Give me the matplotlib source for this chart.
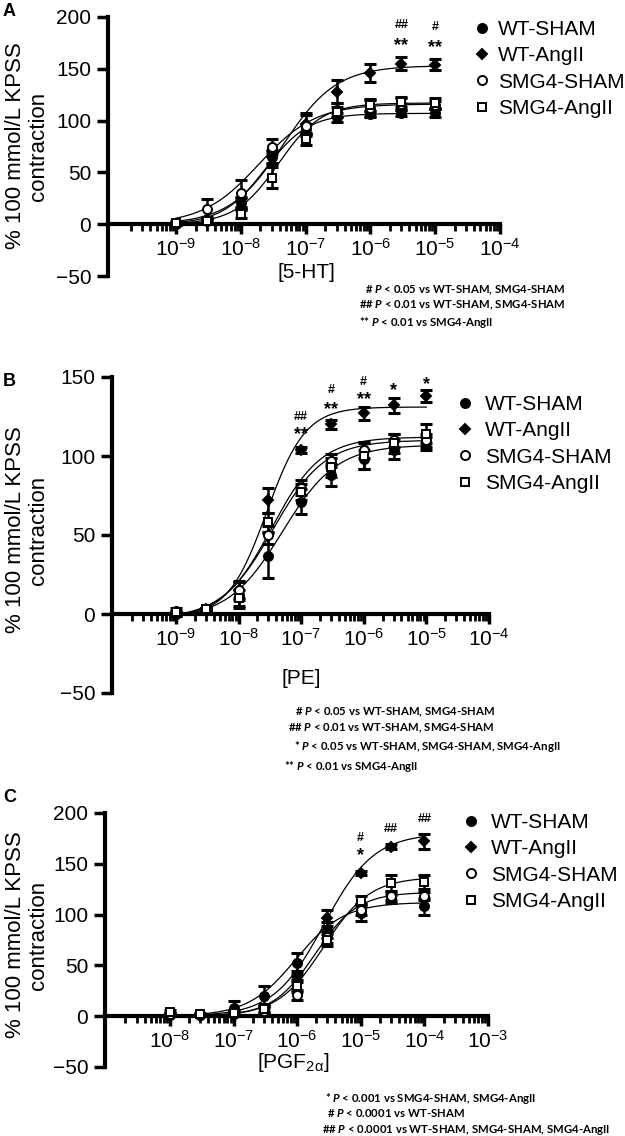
import numpy as np
import matplotlib
matplotlib.use("Agg")
import matplotlib.pyplot as plt
from matplotlib.ticker import FixedLocator, LogLocator, LogFormatterSciNotation
from matplotlib.transforms import offset_copy

plt.rcParams["font.family"] = ["Liberation Sans", "DejaVu Sans"]
plt.rcParams["mathtext.fontset"] = "custom"
plt.rcParams["mathtext.rm"] = "Liberation Sans"
plt.rcParams["mathtext.it"] = "Lato:italic:bold"
plt.rcParams["mathtext.bf"] = "Liberation Sans:bold"

groups = ["WT-SHAM", "WT-AngII", "SMG4-SHAM", "SMG4-AngII"]

# panel A: 5-HT
conc_a = [1e-9, 3e-9, 1e-8, 3e-8, 1e-7, 3e-7, 1e-6, 3e-6, 1e-5]
a_mean = {
    "WT-SHAM":    [0, 3, 20, 65, 92, 103, 106, 107, 107],
    "WT-AngII":   [0, 5, 21, 65, 97, 128, 146, 155, 154],
    "SMG4-SHAM":  [1, 15, 30, 75, 95, 110, 112, 116, 115],
    "SMG4-AngII": [1, 3, 10, 45, 82, 108, 115, 118, 117],
}
a_err = {
    "WT-SHAM":    [1, 2, 5, 6, 5, 4, 3, 3, 4],
    "WT-AngII":   [1, 2, 5, 7, 10, 11, 9, 6, 5],
    "SMG4-SHAM":  [2, 9, 13, 7, 10, 7, 8, 6, 4],
    "SMG4-AngII": [1, 2, 4, 10, 6, 5, 6, 5, 5],
}
# fitted curves: bottom, top, logEC50, hill
a_fit = {
    "WT-SHAM":    (0, 107, -7.62, 1.3),
    "WT-AngII":   (0, 153, -7.35, 1.05),
    "SMG4-SHAM":  (0, 116, -7.72, 1.0),
    "SMG4-AngII": (0, 117, -7.42, 1.3),
}

# panel B: PE
conc_b = [1e-9, 3e-9, 1e-8, 3e-8, 1e-7, 3e-7, 1e-6, 3e-6, 1e-5]
b_mean = {
    "WT-SHAM":    [0, 3, 12, 37, 71, 88, 98, 104, 108],
    "WT-AngII":   [0, 3, 15, 72, 104, 120, 127, 132, 138],
    "SMG4-SHAM":  [2, 3, 15, 50, 80, 97, 104, 110, 110],
    "SMG4-AngII": [1, 3, 10, 58, 77, 93, 100, 108, 114],
}
b_err = {
    "WT-SHAM":    [1, 1, 8, 14, 8, 7, 6, 6, 4],
    "WT-AngII":   [1, 1, 5, 8, 2, 3, 4, 5, 4],
    "SMG4-SHAM":  [2, 1, 6, 6, 5, 4, 5, 4, 4],
    "SMG4-AngII": [1, 1, 5, 6, 5, 6, 8, 6, 6],
}
b_fit = {
    "WT-SHAM":    (-3, 107, -7.3, 1.0),
    "WT-AngII":   (-2, 131, -7.55, 1.4),
    "SMG4-SHAM":  (-3, 110, -7.45, 1.05),
    "SMG4-AngII": (-3, 112, -7.47, 1.1),
}

# panel C: PGF2a
conc_c = [1e-8, 3e-8, 1e-7, 3e-7, 1e-6, 3e-6, 1e-5, 3e-5, 1e-4]
c_mean = {
    "WT-SHAM":    [1, 1, 8, 20, 52, 85, 102, 115, 108],
    "WT-AngII":   [2, 1, 3, 8, 39, 97, 141, 167, 172],
    "SMG4-SHAM":  [2, 1, 2, 5, 21, 78, 105, 118, 118],
    "SMG4-AngII": [4, 2, 3, 7, 30, 75, 113, 131, 132],
}
c_err = {
    "WT-SHAM":    [1, 1, 7, 10, 10, 8, 8, 4, 8],
    "WT-AngII":   [1, 1, 3, 4, 5, 8, 2, 2, 7],
    "SMG4-SHAM":  [1, 1, 2, 3, 5, 6, 5, 4, 4],
    "SMG4-AngII": [2, 1, 2, 3, 6, 6, 5, 8, 7],
}
c_fit = {
    "WT-SHAM":    (0, 112, -6.02, 1.15),
    "WT-AngII":   (0, 180, -5.58, 1.1),
    "SMG4-SHAM":  (0, 122, -5.72, 1.3),
    "SMG4-AngII": (0, 137, -5.58, 1.2),
}

# significance marks: (conc, y value, text)
a_sig = [(3e-6, 192, "##"), (3e-6, 176, "**"), (1e-5, 190, "#"), (1e-5, 174, "**")]
b_sig = [(1e-7, 125, "##"), (1e-7, 116, "**"), (3e-7, 142, "#"), (3e-7, 132, "**"),
         (1e-6, 147, "#"), (1e-6, 138, "**"), (3e-6, 144, "*"), (1e-5, 148, "*")]
c_sig = [(1e-5, 175, "#"), (1e-5, 162, "*"), (3e-5, 184, "##"), (1e-4, 194, "##")]

a_notes = ["# $P$ < 0.05 vs WT-SHAM, SMG4-SHAM",
           "## $P$ < 0.01 vs WT-SHAM, SMG4-SHAM",
           "** $P$ < 0.01 vs SMG4-AngII"]
b_notes = ["# $P$ < 0.05 vs WT-SHAM, SMG4-SHAM",
           "## $P$ < 0.01 vs WT-SHAM, SMG4-SHAM",
           "* $P$ < 0.05 vs WT-SHAM, SMG4-SHAM, SMG4-AngII",
           "** $P$ < 0.01 vs SMG4-AngII"]
c_notes = ["* $P$ < 0.001 vs SMG4-SHAM, SMG4-AngII",
           "# $P$ < 0.0001 vs WT-SHAM",
           "## $P$ < 0.0001 vs WT-SHAM, SMG4-SHAM, SMG4-AngII"]

styles = {
    "WT-SHAM":    dict(marker="o", mfc="black", ms=6.5),
    "WT-AngII":   dict(marker="D", mfc="black", ms=5),
    "SMG4-SHAM":  dict(marker="o", mfc="white", ms=6.5),
    "SMG4-AngII": dict(marker="s", mfc="white", ms=6),
}

W, H = 625, 1136
fig = plt.figure(figsize=(W / 100, H / 100), dpi=100)


def px(x, y):
    return x / W, 1 - y / H


def box(l, r, t, b):
    return [l / W, 1 - b / H, (r - l) / W, (b - t) / H]


def hill(x, bottom, top, logec, h):
    return bottom + (top - bottom) / (1 + 10 ** ((logec - np.log10(x)) * h))


def panel(rect, conc, means, errs, fits, xlim, ylim, yticks, xlabel, xlab_pos,
          sig, letter, letter_pos, ylab_pos, notes, note_pos, leg_pos, leg_pad):
    ax = fig.add_axes(rect)
    xs = np.logspace(np.log10(conc[0]), np.log10(conc[-1]), 300)
    for g in groups:
        ax.plot(xs, hill(xs, *fits[g]), color="black", lw=0.9, zorder=2)
    handles = []
    for g in groups:
        st = styles[g]
        ax.errorbar(conc, means[g], yerr=errs[g], fmt="none", ecolor="black",
                    elinewidth=1.8, capsize=4.3, capthick=2.2, zorder=3)
        h, = ax.plot(conc, means[g], ls="none", marker=st["marker"], ms=st["ms"],
                     mfc=st["mfc"], mec="black", mew=1.4, zorder=4, label=g)
        handles.append(h)

    ax.set_xscale("log")
    ax.set_xlim(*xlim)
    ax.set_ylim(*ylim)
    lo = int(np.ceil(np.log10(xlim[0])))
    hi = int(round(np.log10(xlim[1])))
    ax.xaxis.set_major_locator(FixedLocator([10.0 ** k for k in range(lo + 1, hi + 1)]))
    ax.xaxis.set_major_formatter(LogFormatterSciNotation())
    ax.xaxis.set_minor_locator(LogLocator(base=10, subs=np.arange(2, 10), numticks=20))
    ax.xaxis.set_minor_formatter(plt.NullFormatter())
    ax.set_yticks(yticks)

    for s in ["top", "right"]:
        ax.spines[s].set_visible(False)
    ax.spines["left"].set_linewidth(3)
    ax.spines["bottom"].set_linewidth(3)
    ax.spines["bottom"].set_position(("data", 0))
    ax.tick_params(axis="x", which="major", length=7, width=2.5, labelsize=15, pad=3)
    ax.tick_params(axis="x", which="minor", length=5, width=2)
    ax.tick_params(axis="y", which="major", length=8, width=2.5, labelsize=15, pad=4)
    ax.patch.set_visible(False)

    # asterisks sit high in the font, pull them down a bit
    star_trans = offset_copy(ax.transData, fig=fig, y=-4, units="dots")
    for c, v, t in sig:
        if "*" in t:
            ax.text(c, v, t, ha="center", va="center", fontsize=13,
                    fontweight="bold", transform=star_trans)
        else:
            ax.text(c, v, t, ha="center", va="center", fontsize=9, fontweight="bold")

    fx, fy = px(*xlab_pos)
    fig.text(fx, fy, xlabel, ha="center", va="center", fontsize=15)
    fx, fy = px(*ylab_pos)
    fig.text(fx, fy, "% 100 mmol/L KPSS\ncontraction", rotation=90, ha="center",
             va="center", fontsize=16, linespacing=1.15)
    fx, fy = px(*letter_pos)
    fig.text(fx, fy, letter, ha="left", va="center", fontsize=13, fontweight="bold")

    # stats footnotes under each panel
    for (nx, ny), t in zip(note_pos, notes):
        fx, fy = px(nx, ny)
        fig.text(fx, fy, t, ha="left", va="center", fontsize=8.2,
                 family="Lato", fontweight="bold")

    ax.legend(handles, groups, loc="upper left", bbox_to_anchor=px(*leg_pos),
              bbox_transform=fig.transFigure, frameon=False, fontsize=15,
              handlelength=0.6, handletextpad=leg_pad, labelspacing=0.35,
              borderpad=0, borderaxespad=0, numpoints=1)
    return ax


panel(box(108, 500, 17, 276), conc_a, a_mean, a_err, a_fit,
      (10 ** -10.05, 1e-4), (-50, 200), [-50, 0, 50, 100, 150, 200],
      "[5-HT]", (306, 273), a_sig, "A", (3, 12), (27, 146),
      a_notes, [(365, 290), (359, 305), (359, 322)], (476, 20), 0.45)

panel(box(112, 489, 377, 693), conc_b, b_mean, b_err, b_fit,
      (10 ** -10.02, 1e-4), (-50, 150), [-50, 0, 50, 100, 150],
      "[PE]", (301, 678), b_sig, "B", (3, 382), (27, 530),
      b_notes, [(295, 712), (288, 728), (294, 747), (284, 766)], (459, 395), 0.65)

panel(box(105, 488, 813, 1067), conc_c, c_mean, c_err, c_fit,
      (10 ** -9.02, 1e-3), (-50, 200), [-50, 0, 50, 100, 150, 200],
      "[PGF$_{\\mathrm{2\u03b1}}$]", (293, 1062), c_sig, "C", (3, 798), (27, 935),
      c_notes, [(325, 1098), (327, 1113), (322, 1130)], (465, 813), 0.65)

fig.savefig("out.png", dpi=100)
